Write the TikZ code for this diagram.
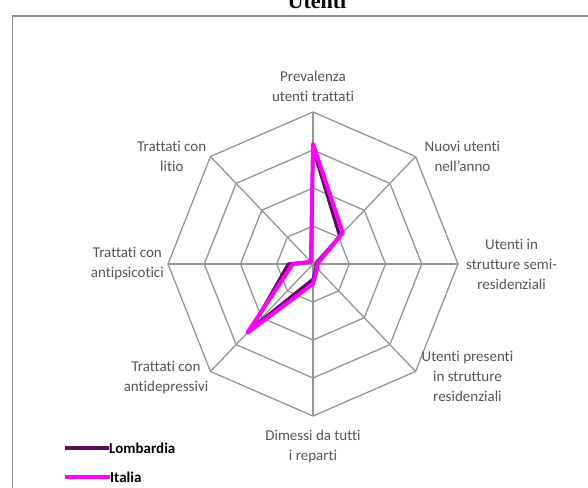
\documentclass[tikz,border=0pt]{standalone}
\usepackage{fontspec}
\setmainfont[Ligatures=NoCommon]{Carlito}
\newfontfamily\titlefont{Liberation Serif}
\usepackage{xcolor}
\usepackage{tikz}
\usetikzlibrary{positioning}

\definecolor{gridgray}{HTML}{959595}
\definecolor{labelgray}{HTML}{555555}
\definecolor{framegray}{HTML}{8E8E8E}
\definecolor{colLombardia}{HTML}{5E0B5E}
\definecolor{colItalia}{HTML}{FF00FF}

\begin{document}
\begin{tikzpicture}[
    x=1pt, y=-1pt,
    axislabel/.style={text=labelgray, font=\fontsize{15}{20}\selectfont, align=center, inner sep=0pt},
    legendtext/.style={font=\fontsize{15}{18}\selectfont\bfseries, anchor=west, inner sep=0pt},
    gridline/.style={draw=gridgray, line width=1.3pt},
    serie/.style={line width=4pt, line join=round, line cap=round}
]
    \useasboundingbox (0,0) rectangle (588,487);

    % titolo e cornice
    \node[font=\titlefont\bfseries\fontsize{22}{24}\selectfont, anchor=base] (titolo) at (317,9) {Utenti};
    \draw[framegray, line width=1.8pt] (12.5,600) -- (12.5,16) -- (700,16);

    % griglia del radar
    \begin{scope}[shift={(313,264)}, x=145pt, y=152pt]
        \coordinate (centro) at (0,0);
        \foreach \k in {0,...,7} {
            \coordinate (asse\k) at (90-45*\k:1);
            \draw[gridline] (centro) -- (asse\k);
        }
        \foreach \r in {0.25,0.5,0.75,1} {
            \draw[gridline] (90:\r) \foreach \k in {1,...,7} { -- (90-45*\k:\r) } -- cycle;
        }
        % valori
        \foreach \v [count=\k from 0] in {0.76,0.26,0.02,0.03,0.10,0.60,0.17,0.02}
            \coordinate (lo\k) at (90-45*\k:\v);
        \foreach \v [count=\k from 0] in {0.79,0.29,0.03,0.04,0.13,0.64,0.14,0.02}
            \coordinate (it\k) at (90-45*\k:\v);
    \end{scope}

    \draw[serie, colLombardia, line width=3.2pt] (lo0) -- (lo1) -- (lo2) -- (lo3) -- (lo4) -- (lo5) -- (lo6) -- (lo7) -- cycle;
    \draw[serie, colItalia] (it0) -- (it1) -- (it2) -- (it3) -- (it4) -- (it5) -- (it6) -- (it7) -- cycle;

    % etichette degli assi
    \node[axislabel, above=10pt of asse0] (prevalenza) {Prevalenza\\utenti trattati};
    \node[axislabel, right=9pt of asse1] (nuovi) {Nuovi utenti\\nell'anno};
    \node[axislabel, right=8pt of asse2] (semires) {Utenti in\\strutture semi-\\residenziali};
    \node[axislabel, right=6pt of asse3, yshift=-5pt] (residenziali) {Utenti presenti\\in strutture\\residenziali};
    \node[axislabel, below=14pt of asse4] (dimessi) {Dimessi da tutti\\i reparti};
    \node[axislabel, left=2pt of asse5, yshift=-6pt] (antidepressivi) {Trattati con\\antidepressivi};
    \node[axislabel, left=4pt of asse6] (antipsicotici) {Trattati con\\antipsicotici};
    \node[axislabel, left=4pt of asse7] (litio) {Trattati con\\litio};

    % legenda
    \node[legendtext] (legLombardia) at (109,448) {Lombardia};
    \node[legendtext] (legItalia) at (110,477) {Italia};
    \coordinate (inizioLombardia) at (65,448);
    \coordinate (inizioItalia) at (65,477);
    \draw[colLombardia, line width=4pt] (inizioLombardia) -- (legLombardia.west);
    \draw[colItalia, line width=4pt] (inizioItalia) -- (legItalia.west);
\end{tikzpicture}
\end{document}
